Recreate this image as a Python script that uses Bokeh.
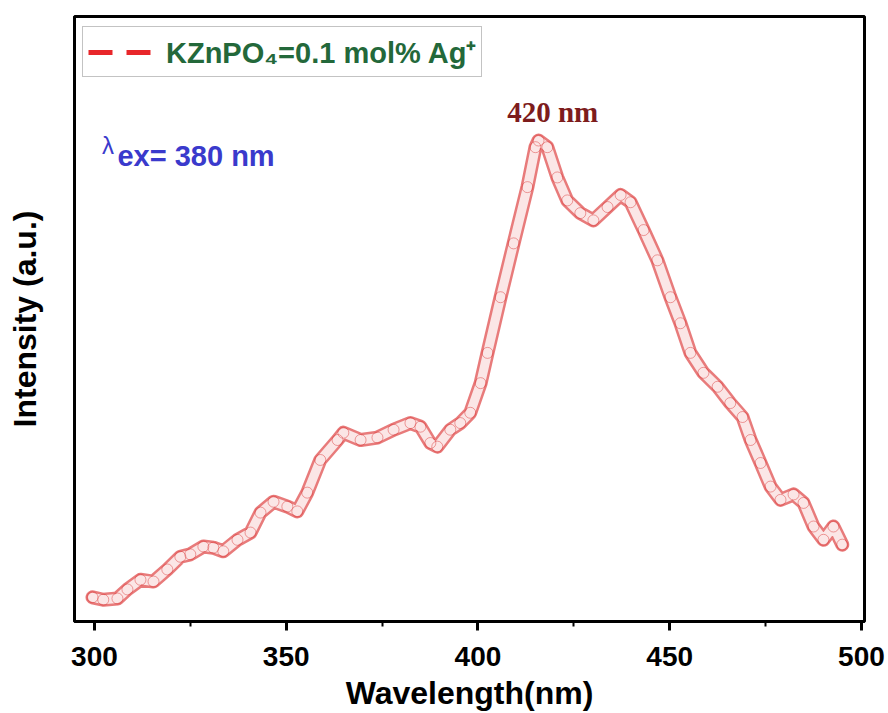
from bokeh.plotting import figure
from bokeh.models import ColumnDataSource, Range1d, FixedTicker, Legend, LegendItem, Label
from bokeh.embed import file_html
from bokeh.resources import INLINE

# ---- data ----
wavelength = [299.5, 302.3, 306.0, 308.6, 312.0, 315.4, 319.0, 322.4, 325.0, 328.4,
              331.0, 333.6, 337.3, 340.7, 343.3, 346.7, 350.3, 352.9, 355.5, 358.9,
              363.4, 364.9, 369.4, 373.8, 378.0, 382.4, 385.0, 387.6, 389.4, 392.8,
              395.4, 398.0, 400.7, 402.5, 405.9, 409.3, 412.9, 415.0, 415.8, 418.1,
              420.7, 423.3, 426.7, 430.1, 433.8, 437.2, 439.8, 443.2, 446.8, 450.2,
              452.8, 455.4, 458.8, 462.5, 465.8, 469.0, 471.1, 473.7, 476.3, 478.9,
              482.3, 484.9, 487.5, 490.1, 492.7, 495.0]
intensity = [40, 36, 38, 53, 69, 66, 86, 107, 111, 124,
             122, 116, 135, 147, 180, 198, 190, 182, 213, 267,
             300, 312, 300, 304, 317, 328, 322, 295, 289, 317,
             328, 345, 394, 444, 536, 625, 718, 784, 795, 784,
             734, 696, 675, 663, 685, 705, 693, 647, 597, 536,
             493, 444, 411, 388, 361, 338, 300, 262, 223, 201,
             210, 196, 157, 135, 157, 127]
x_ticks = [300, 350, 400, 450, 500]
x_minor_ticks = [325, 375, 425, 475]
series_label = "KZnPO\u2084=0.1 mol% Ag\u207A"
peak_label = "420 nm"
excitation_label = "ex= 380 nm"

src = ColumnDataSource(data=dict(x=wavelength, y=intensity))

p = figure(width=888, height=713, output_backend="svg", toolbar_location=None,
           x_range=Range1d(294.8, 500.8), y_range=Range1d(0, 1000),
           min_border_left=74, min_border_right=24, min_border_top=16, min_border_bottom=91)
p.background_fill_color = "white"
p.border_fill_color = "white"
p.grid.visible = False
p.outline_line_color = "black"
p.outline_line_width = 3
p.outline_line_alpha = 1

# curve: thick band with red edges and light interior + open circles
p.line("x", "y", source=src, line_color="#e25a5a", line_width=14, line_alpha=0.8, line_join="round", line_cap="round")
p.line("x", "y", source=src, line_color="#fbe6e6", line_width=9, line_join="round", line_cap="round")
p.scatter("x", "y", source=src, marker="circle", size=11, fill_color=None,
          line_color="#d93030", line_alpha=0.45, line_width=1)

# legend dummy renderer (not visible in the plot area)
dummy = p.line(x=[float("nan"), float("nan")], y=[float("nan"), float("nan")],
               line_color="#e8262a", line_width=5, line_dash="24 14")
legend = Legend(items=[LegendItem(label=series_label, renderers=[dummy])],
                location=(8, 544), margin=0, padding=5, spacing=0,
                glyph_width=70, glyph_height=38, label_height=38, label_standoff=8,
                label_text_font="Liberation Sans", label_text_font_style="bold",
                label_text_font_size="29px", label_text_color="#23683a",
                border_line_color="#888888", border_line_width=1,
                background_fill_alpha=1)
p.add_layout(legend, "center")

# annotations
p.add_layout(Label(x=419.5, y=842, text=peak_label, text_align="center", text_baseline="middle",
                   text_font="Liberation Serif", text_font_style="bold", text_font_size="29px",
                   text_color="#7d1c1c"))
p.add_layout(Label(x=302.0, y=786, text="\u03bb", text_align="left", text_baseline="middle",
                   text_font="Liberation Sans", text_font_size="24px", text_color="#3a3acc"))
p.add_layout(Label(x=306.0, y=769, text=excitation_label, text_align="left", text_baseline="middle",
                   text_font="Liberation Sans", text_font_style="bold", text_font_size="29px",
                   text_color="#3a3acc"))

# axes
xa = p.xaxis[0]
xa.ticker = FixedTicker(ticks=x_ticks, minor_ticks=x_minor_ticks)
xa.axis_label = "Wavelength(nm)"
xa.axis_label_text_font = "Liberation Sans"
xa.axis_label_text_font_style = "bold"
xa.axis_label_text_font_size = "32px"
xa.axis_label_text_color = "black"
xa.axis_label_standoff = 6
xa.major_label_text_font = "Liberation Sans"
xa.major_label_text_font_style = "bold"
xa.major_label_text_font_size = "28px"
xa.major_label_text_color = "black"
xa.major_label_standoff = 16
xa.axis_line_width = 3
xa.major_tick_line_width = 3
xa.major_tick_out = 9
xa.major_tick_in = 0
xa.minor_tick_line_width = 2
xa.minor_tick_out = 5
xa.minor_tick_in = 0

ya = p.yaxis[0]
ya.ticker = FixedTicker(ticks=[])
ya.axis_label = "Intensity (a.u.)"
ya.axis_label_text_font = "Liberation Sans"
ya.axis_label_text_font_style = "bold"
ya.axis_label_text_font_size = "32px"
ya.axis_label_text_color = "black"
ya.axis_label_standoff = 32
ya.major_tick_line_color = None
ya.minor_tick_line_color = None
ya.axis_line_width = 3

open("out.html", "w").write(file_html(p, INLINE))
